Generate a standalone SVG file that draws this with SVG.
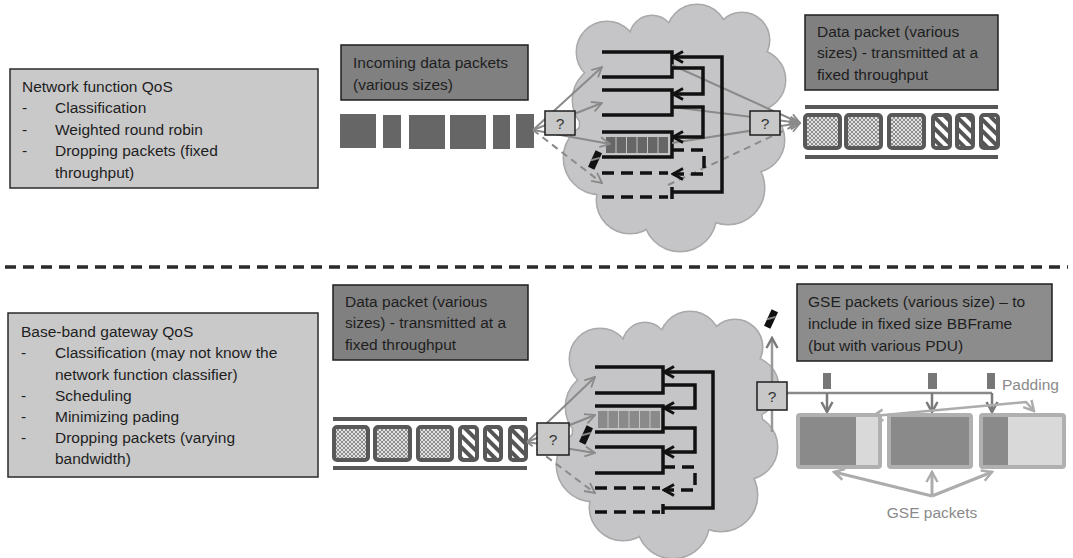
<svg xmlns="http://www.w3.org/2000/svg" xmlns:xlink="http://www.w3.org/1999/xlink" width="1073" height="558" viewBox="0 0 1073 558">
<style>
.t{font-family:"Liberation Sans",Arial,sans-serif;font-size:15.5px;fill:#1e1e1e}
.tg{font-family:"Liberation Sans",Arial,sans-serif;font-size:15.5px;fill:#8a8a8a}
.lbox{fill:#c9c9ca;stroke:#2a2a2a;stroke-width:1.5}
.dbox{fill:#808081;stroke:#1e1e1e;stroke-width:1.5}
.qbox{fill:#c8c8c8;stroke:#1e1e1e;stroke-width:1.5}
.q{fill:none;stroke:#111;stroke-width:3.5}
.qd{fill:none;stroke:#111;stroke-width:3.5;stroke-dasharray:12 7}
.ga{fill:none;stroke:#8a8a8a;stroke-width:2;marker-end:url(#ag)}
.gad{fill:none;stroke:#8a8a8a;stroke-width:2;stroke-dasharray:7 5;marker-end:url(#ag)}
.ba{fill:none;stroke:#111;stroke-width:3.5;marker-end:url(#ab)}
.bad{fill:none;stroke:#111;stroke-width:3.5;stroke-dasharray:12 7;marker-end:url(#ab)}
.pk{stroke:#585858;stroke-width:4}
.bar{fill:#585858}
.cell{fill:#666}
.cloudS{fill:#c5c5c7;stroke:#a9a9ab;stroke-width:3}
.cloudF{fill:#c5c5c7;stroke:none}
</style>
<defs>
<marker id="ag" viewBox="0 0 12 12" refX="11" refY="6" markerWidth="12" markerHeight="12" markerUnits="userSpaceOnUse" orient="auto">
<path d="M1,1 L11,6 L1,11" fill="none" stroke="#8a8a8a" stroke-width="1.8"/>
</marker>
<marker id="ab" viewBox="0 0 14 14" refX="12" refY="7" markerWidth="14" markerHeight="14" markerUnits="userSpaceOnUse" orient="auto">
<path d="M2,1.5 L12,7 L2,12.5" fill="none" stroke="#111" stroke-width="3"/>
</marker>
<marker id="al" viewBox="0 0 14 14" refX="12" refY="7" markerWidth="14" markerHeight="14" markerUnits="userSpaceOnUse" orient="auto-start-reverse">
<path d="M2,1.5 L12,7 L2,12.5" fill="none" stroke="#acacac" stroke-width="2.5"/>
</marker>
<marker id="ad" viewBox="0 0 14 14" refX="12" refY="7" markerWidth="14" markerHeight="14" markerUnits="userSpaceOnUse" orient="auto">
<path d="M2,1.5 L12,7 L2,12.5" fill="none" stroke="#7a7a7a" stroke-width="2.5"/>
</marker>
<pattern id="hatch" width="4" height="4" patternUnits="userSpaceOnUse">
<rect width="4" height="4" fill="#e2e2e2"/>
<path d="M0,0 L4,4 M4,0 L0,4" stroke="#8c8c8c" stroke-width="1"/>
</pattern>
<pattern id="stripe" width="8" height="8" patternUnits="userSpaceOnUse" patternTransform="rotate(-45)">
<rect width="8" height="8" fill="#fff"/>
<rect width="4" height="8" fill="#555"/>
</pattern>
<g id="cloudC">
<circle cx="607" cy="52" r="30"/>
<circle cx="652" cy="38" r="22"/>
<circle cx="697" cy="35" r="30"/>
<circle cx="742" cy="40" r="27"/>
<circle cx="755" cy="80" r="30"/>
<circle cx="752" cy="140" r="32"/>
<circle cx="728" cy="188" r="36"/>
<circle cx="680" cy="215" r="36"/>
<circle cx="630" cy="200" r="33"/>
<circle cx="600" cy="158" r="36"/>
<circle cx="608" cy="100" r="35"/>
<ellipse cx="675" cy="128" rx="95" ry="100"/>
</g>
<g id="drop">
<rect x="-3.5" y="-9" width="7" height="18" fill="#111"/>
<path d="M-3.5,2 L3.5,-4" stroke="#888" stroke-width="2"/>
</g>
</defs>

<rect width="1073" height="558" fill="#fff"/>

<!-- clouds -->
<g id="cloud-top">
<use xlink:href="#cloudC" class="cloudS"/>
<use xlink:href="#cloudC" class="cloudF"/>
</g>
<g id="cloud-bottom" transform="translate(-7,307)">
<use xlink:href="#cloudC" class="cloudS"/>
<use xlink:href="#cloudC" class="cloudF"/>
</g>

<!-- separator -->
<line x1="5" y1="267" x2="1068" y2="267" stroke="#2a2a2a" stroke-width="3.5" stroke-dasharray="11 7"/>

<!-- text boxes -->
<g id="nf-qos">
<rect class="lbox" x="10" y="69" width="308" height="119"/>
<text class="t" x="22" y="92">Network function QoS</text>
<text class="t" x="22" y="113">-</text><text class="t" x="55" y="113">Classification</text>
<text class="t" x="22" y="135">-</text><text class="t" x="55" y="135">Weighted round robin</text>
<text class="t" x="22" y="156">-</text><text class="t" x="55" y="156">Dropping packets (fixed</text>
<text class="t" x="55" y="178">throughput)</text>
</g>
<g id="bb-qos">
<rect class="lbox" x="8" y="313" width="310" height="164"/>
<text class="t" x="21" y="337">Base-band gateway QoS</text>
<text class="t" x="21" y="358">-</text><text class="t" x="55" y="358">Classification (may not know the</text>
<text class="t" x="55" y="380">network function classifier)</text>
<text class="t" x="21" y="401">-</text><text class="t" x="55" y="401">Scheduling</text>
<text class="t" x="21" y="422">-</text><text class="t" x="55" y="422">Minimizing pading</text>
<text class="t" x="21" y="443">-</text><text class="t" x="55" y="443">Dropping packets (varying</text>
<text class="t" x="55" y="464">bandwidth)</text>
</g>
<g id="incoming-label">
<rect class="dbox" x="341" y="45" width="187" height="55"/>
<text class="t" x="353" y="68">Incoming data packets</text>
<text class="t" x="353" y="90">(various sizes)</text>
</g>
<g id="out-label-top">
<rect class="dbox" x="805" y="15" width="193" height="75"/>
<text class="t" x="817" y="37">Data packet (various</text>
<text class="t" x="817" y="58">sizes) - transmitted at a</text>
<text class="t" x="817" y="80">fixed throughput</text>
</g>
<g id="in-label-bottom">
<rect class="dbox" x="333" y="285" width="195" height="75"/>
<text class="t" x="345" y="307">Data packet (various</text>
<text class="t" x="345" y="328">sizes) - transmitted at a</text>
<text class="t" x="345" y="350">fixed throughput</text>
</g>
<g id="gse-label">
<rect class="dbox" x="797" y="284" width="255" height="77" style="fill:#8c8c8c"/>
<text class="t" x="808" y="307">GSE packets (various size) – to</text>
<text class="t" x="808" y="329">include in fixed size BBFrame</text>
<text class="t" x="808" y="351">(but with various PDU)</text>
</g>

<!-- incoming packets (top) -->
<g id="incoming-packets">
<rect class="cell" x="340" y="114" width="36" height="34"/>
<rect class="cell" x="383" y="115" width="18" height="33"/>
<rect class="cell" x="409" y="115" width="36" height="34"/>
<rect class="cell" x="450" y="115" width="36" height="34"/>
<rect class="cell" x="493" y="115" width="17" height="34"/>
<rect class="cell" x="516" y="114" width="18" height="34"/>
</g>

<!-- output packets (top) -->
<g id="output-packets-top">
<rect class="bar" x="805" y="105" width="193" height="4"/>
<rect class="pk" x="805" y="115" width="35" height="33" rx="3" fill="url(#hatch)"/>
<rect class="pk" x="846" y="115" width="35" height="33" rx="3" fill="url(#hatch)"/>
<rect class="pk" x="889" y="115" width="35" height="33" rx="3" fill="url(#hatch)"/>
<rect class="pk" x="933" y="115" width="17" height="33" rx="3" fill="url(#stripe)"/>
<rect class="pk" x="957" y="115" width="16" height="33" rx="3" fill="url(#stripe)"/>
<rect class="pk" x="981" y="115" width="17" height="33" rx="3" fill="url(#stripe)"/>
<rect class="bar" x="805" y="155" width="193" height="4"/>
</g>

<!-- input packets (bottom) -->
<g id="input-packets-bottom">
<rect class="bar" x="333" y="417" width="194" height="4"/>
<rect class="pk" x="334" y="427" width="34" height="33" rx="3" fill="url(#hatch)"/>
<rect class="pk" x="375" y="427" width="35" height="33" rx="3" fill="url(#hatch)"/>
<rect class="pk" x="418" y="427" width="34" height="33" rx="3" fill="url(#hatch)"/>
<rect class="pk" x="460" y="427" width="17" height="33" rx="3" fill="url(#stripe)"/>
<rect class="pk" x="485" y="427" width="16" height="33" rx="3" fill="url(#stripe)"/>
<rect class="pk" x="510" y="427" width="16" height="33" rx="3" fill="url(#stripe)"/>
<rect class="bar" x="333" y="466" width="194" height="4"/>
</g>

<!-- queues top -->
<g id="queues-top">
<path class="q" d="M602,52 H672 V77 H602"/>
<path class="q" d="M602,90 H672 V115 H602"/>
<path class="q" d="M602,132 H672 V157 H602"/>
<g fill="#666">
<rect x="606" y="137" width="9.5" height="16"/><rect x="616.5" y="137" width="9.5" height="16"/><rect x="627" y="137" width="9.5" height="16"/><rect x="637.5" y="137" width="9.5" height="16"/><rect x="648" y="137" width="9.5" height="16"/><rect x="658.5" y="137" width="9.5" height="16"/>
</g>
<path class="qd" d="M602,173 H668"/>
<path class="qd" d="M602,197 H668"/>
<path class="q" d="M672,187 V199"/>
</g>

<!-- queues bottom -->
<g id="queues-bottom">
<path class="q" d="M595,367 H663 V393 H595"/>
<path class="q" d="M595,406 H663 V432 H595"/>
<path class="q" d="M595,447 H663 V473 H595"/>
<g fill="#8a8a8a">
<rect x="598" y="411" width="9.5" height="17"/><rect x="608.5" y="411" width="9.5" height="17"/><rect x="619" y="411" width="9.5" height="17"/><rect x="629.5" y="411" width="9.5" height="17"/><rect x="640" y="411" width="9.5" height="17"/><rect x="650.5" y="411" width="9.5" height="17"/>
</g>
<path class="qd" d="M595,488 H660"/>
<path class="qd" d="M595,512 H660"/>
<path class="q" d="M663,504 V514"/>
</g>

<!-- connectors -->
<g id="connectors">
<path class="ga" d="M533,130 L602,67"/>
<path class="ga" d="M533,130 L602,103"/>
<path class="ga" d="M533,130 L610,144"/>
<path class="gad" d="M533,130 L602,183"/>
<path class="ga" d="M672,65 L800,123"/>
<path class="ga" d="M672,107 L800,123"/>
<path class="ga" d="M672,143 L800,123"/>
<path class="gad" d="M668,185 L800,123"/>
<path class="ba" d="M672,192 H722 V57 H673"/>
<path class="ba" d="M672,68 H703 V94 H673"/>
<path class="ba" d="M672,107 H703 V137 H673"/>
<path class="bad" d="M672,150 H704 V174 H673"/>
<path class="ga" d="M527,442 L595,377"/>
<path class="ga" d="M527,442 L595,415"/>
<path class="ga" d="M527,442 L595,453"/>
<path class="gad" d="M527,442 L595,493"/>
<path class="ba" d="M663,508 H713 V372 H664"/>
<path class="ba" d="M663,385 H695 V408 H664"/>
<path class="ba" d="M663,428 H695 V452 H664"/>
<path class="bad" d="M663,467 H695 V490 H664"/>
<path d="M772,432 V383" fill="none" stroke="#999" stroke-width="2.5"/>
<path d="M772,383 V338" fill="none" stroke="#999" stroke-width="2.5" marker-end="url(#ad)"/>
<path d="M787,393 H992" fill="none" stroke="#8a8a8a" stroke-width="2.5"/>
<path d="M827,393 V412" fill="none" stroke="#7a7a7a" stroke-width="2.5" marker-end="url(#ad)"/>
<path d="M932,393 V412" fill="none" stroke="#7a7a7a" stroke-width="2.5" marker-end="url(#ad)"/>
<path d="M992,393 V412" fill="none" stroke="#7a7a7a" stroke-width="2.5" marker-end="url(#ad)"/>
<path d="M873,416 L1026,402 L1034,411" fill="none" stroke="#acacac" stroke-width="2.5" marker-start="url(#al)" marker-end="url(#al)"/>
<path d="M932,496 L834,472" fill="none" stroke="#acacac" stroke-width="3" marker-end="url(#al)"/>
<path d="M932,496 V472" fill="none" stroke="#acacac" stroke-width="3" marker-end="url(#al)"/>
<path d="M932,496 L992,472" fill="none" stroke="#acacac" stroke-width="3" marker-end="url(#al)"/>
</g>

<!-- classifier / scheduler boxes -->
<g id="cls-top"><rect class="qbox" x="545" y="111" width="30" height="24"/><text class="t" x="560" y="129" text-anchor="middle" style="fill:#333">?</text></g>
<g id="sch-top"><rect class="qbox" x="750" y="111" width="30" height="24"/><text class="t" x="765" y="129" text-anchor="middle" style="fill:#333">?</text></g>
<g id="cls-bottom"><rect class="qbox" x="537" y="423" width="32" height="32"/><text class="t" x="553" y="445" text-anchor="middle" style="fill:#333">?</text></g>
<g id="sch-bottom"><rect class="qbox" x="757" y="382" width="30" height="28"/><text class="t" x="772" y="402" text-anchor="middle" style="fill:#333">?</text></g>

<!-- dropped packets -->
<g id="drop-top"><use xlink:href="#drop" transform="translate(595,160) rotate(25)"/></g>
<g id="drop-bottom"><use xlink:href="#drop" transform="translate(586,435) rotate(25)"/></g>
<g id="drop-gse"><use xlink:href="#drop" transform="translate(771,319) rotate(25)"/></g>

<!-- headers -->
<g id="headers">
<rect x="823" y="373" width="8" height="16" fill="#777"/>
<rect x="928" y="373" width="9" height="16" fill="#777"/>
<rect x="987" y="373" width="8" height="16" fill="#777"/>
</g>

<!-- BBFrames -->
<g id="bbframe-1">
<rect x="798" y="415" width="82" height="52" rx="2" fill="#d9d9d9" stroke="#b0b0b0" stroke-width="4"/>
<rect x="800" y="417" width="56" height="48" fill="#8a8a8a"/>
</g>
<g id="bbframe-2">
<rect x="889" y="415" width="82" height="52" rx="2" fill="#8a8a8a" stroke="#b0b0b0" stroke-width="4"/>
</g>
<g id="bbframe-3">
<rect x="981" y="415" width="83" height="52" rx="2" fill="#d9d9d9" stroke="#b0b0b0" stroke-width="4"/>
<rect x="983" y="417" width="25" height="48" fill="#8a8a8a"/>
</g>

<text class="tg" x="1002" y="390">Padding</text>
<text class="tg" x="932" y="518" text-anchor="middle">GSE packets</text>
</svg>
